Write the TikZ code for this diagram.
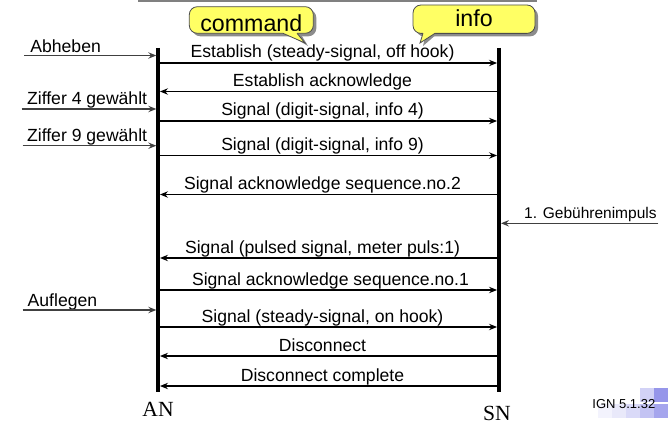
\documentclass[tikz,border=0pt]{standalone}
\usepackage{fontspec}
\setmainfont{Liberation Sans}
\newfontfamily\lifefont{Liberation Serif}
\usetikzlibrary{arrows.meta,shadows}
\definecolor{bubblefill}{RGB}{255,255,100}
\definecolor{ignblue}{RGB}{105,105,225}

\begin{document}
\begin{tikzpicture}[x=0.5pt, y=-0.5pt, font=\fontsize{8.8}{10}\selectfont,
          >={Stealth[length=4pt, width=3.2pt, inset=1.4pt]},
          life/.style={line width=1.8pt},
          msg/.style={->, line width=0.55pt},
          ext/.style={->, line width=0.55pt, black!75},
          lbl/.style={anchor=base, xshift=-3pt, yshift=2.5pt, inner sep=0pt},
          extlbl/.style={anchor=base west, inner sep=0pt},
          station/.style={anchor=base, inner sep=0pt, font=\lifefont\fontsize{10.8}{12}\selectfont},
          bubble/.style={draw=black!70, fill=bubblefill, rounded corners=4pt,
            line width=0.4pt, inner sep=0pt, text depth=0pt, font=\fontsize{11.6}{12}\selectfont,
            drop shadow={shadow xshift=1.5pt, shadow yshift=-1.5pt, fill=black!45, opacity=1}},
          tailshadow/.style={fill=black!45},
          tail/.style={fill=bubblefill},
          tailedge/.style={draw=black!70, line width=0.4pt}]
        \useasboundingbox (0,0) rectangle (668,422);
        \draw[black!50, line width=1.2pt] (138,1.2) -- (537,1.2);
        % lifelines
        \node[station] (an) at (158,416) {AN};
        \node[station] (sn) at (497,420) {SN};
        \coordinate (antop) at (158,48);
        \coordinate (anbot) at (158,392);
        \coordinate (sntop) at (499,48);
        \coordinate (snbot) at (499,392);
        \draw[life] (antop) -- (anbot);
        \draw[life] (sntop) -- (snbot);
        % callouts
        \fill[tailshadow] (286,33) -- (308,46) -- (300,33) -- cycle;
        \fill[tailshadow] (426,33) -- (423,46) -- (438,33) -- cycle;
        \node[bubble, minimum width=62pt, minimum height=13.3pt, text height=12pt] (command) at (251.3,20) {command};
        \node[bubble, minimum width=61pt, minimum height=14.2pt, text height=7.7pt] (info) at (474,19.2) {info};
        \coordinate (cmdtip) at (305,43);
        \coordinate (infotip) at (420,43);
        \fill[tail] (283,31) -- (283,33.3) -- (cmdtip) -- (297,33.3) -- (297,31) -- cycle;
        \draw[tailedge] (283,33.3) -- (cmdtip) -- (297,33.3);
        \fill[tail] (423,31) -- (423,33.3) -- (infotip) -- (435,33.3) -- (435,31) -- cycle;
        \draw[tailedge] (423,33.3) -- (infotip) -- (435,33.3);
        % messages
        \foreach \k/\y in {1/63,2/91.5,3/121,4/155.5,5/194.5,6/258,7/290,8/327,9/356,10/386} {
          \coordinate (a\k) at (160,\y);
          \coordinate (s\k) at (497,\y);
        }
        \draw[msg] (a1) -- node[lbl] {Establish (steady-signal, off hook)} (s1);
        \draw[msg] (s2) -- node[lbl] {Establish acknowledge} (a2);
        \draw[msg] (a3) -- node[lbl] {Signal (digit-signal, info 4)} (s3);
        \draw[msg] (a4) -- node[lbl] {Signal (digit-signal, info 9)} (s4);
        \draw[msg] (s5) -- node[lbl] {Signal acknowledge sequence.no.2} (a5);
        \draw[msg] (s6) -- node[lbl] {Signal (pulsed signal, meter puls:1)} (a6);
        \draw[msg] (a7) -- node[lbl, xshift=4pt] {Signal acknowledge sequence.no.1} (s7);
        \draw[msg] (a8) -- node[lbl] {Signal (steady-signal, on hook)} (s8);
        \draw[msg] (s9) -- node[lbl] {Disconnect} (a9);
        \draw[msg] (s10) -- node[lbl] {Disconnect complete} (a10);
        % outside events
        \node[extlbl] (abheben) at (30,53) {Abheben};
        \node[extlbl] (ziffer4) at (26.7,105) {Ziffer 4 gewählt};
        \node[extlbl] (ziffer9) at (26.7,141.7) {Ziffer 9 gewählt};
        \node[extlbl] (auflegen) at (27.3,306.7) {Auflegen};
        \node[anchor=base east, inner sep=0pt, font=\fontsize{7.75}{9}\selectfont] (gebuehr) at (657,218.3) {1. Gebührenimpuls};
        \coordinate (abhs) at (24,55.5);     \coordinate (abhe) at (156.3,55.5);
        \coordinate (z4s) at (21.7,109);     \coordinate (z4e) at (156.3,109);
        \coordinate (z9s) at (22.7,145.7);   \coordinate (z9e) at (156.3,145.7);
        \coordinate (aufs) at (22.7,310);    \coordinate (aufe) at (156.3,310);
        \coordinate (gebs) at (658.3,223.3); \coordinate (gebe) at (501,223.3);
        \draw[ext] (abhs) -- (abhe);
        \draw[ext] (z4s) -- (z4e);
        \draw[ext] (z9s) -- (z9e);
        \draw[ext] (aufs) -- (aufe);
        \draw[ext] (gebs) -- (gebe);
        % slide footer
        \foreach \tx/\ty/\ts in {640/388/30, 654/388/70, 598/404/8, 612/404/15, 626/404/25, 640/404/40, 654/404/60}
          \fill[ignblue!\ts] (\tx,\ty) rectangle ++(14,14);
        \node[anchor=base west, inner sep=0pt, font=\fontsize{6.5}{8}\selectfont] (ign) at (592,408) {IGN 5.1.32};
      \end{tikzpicture}
\end{document}
